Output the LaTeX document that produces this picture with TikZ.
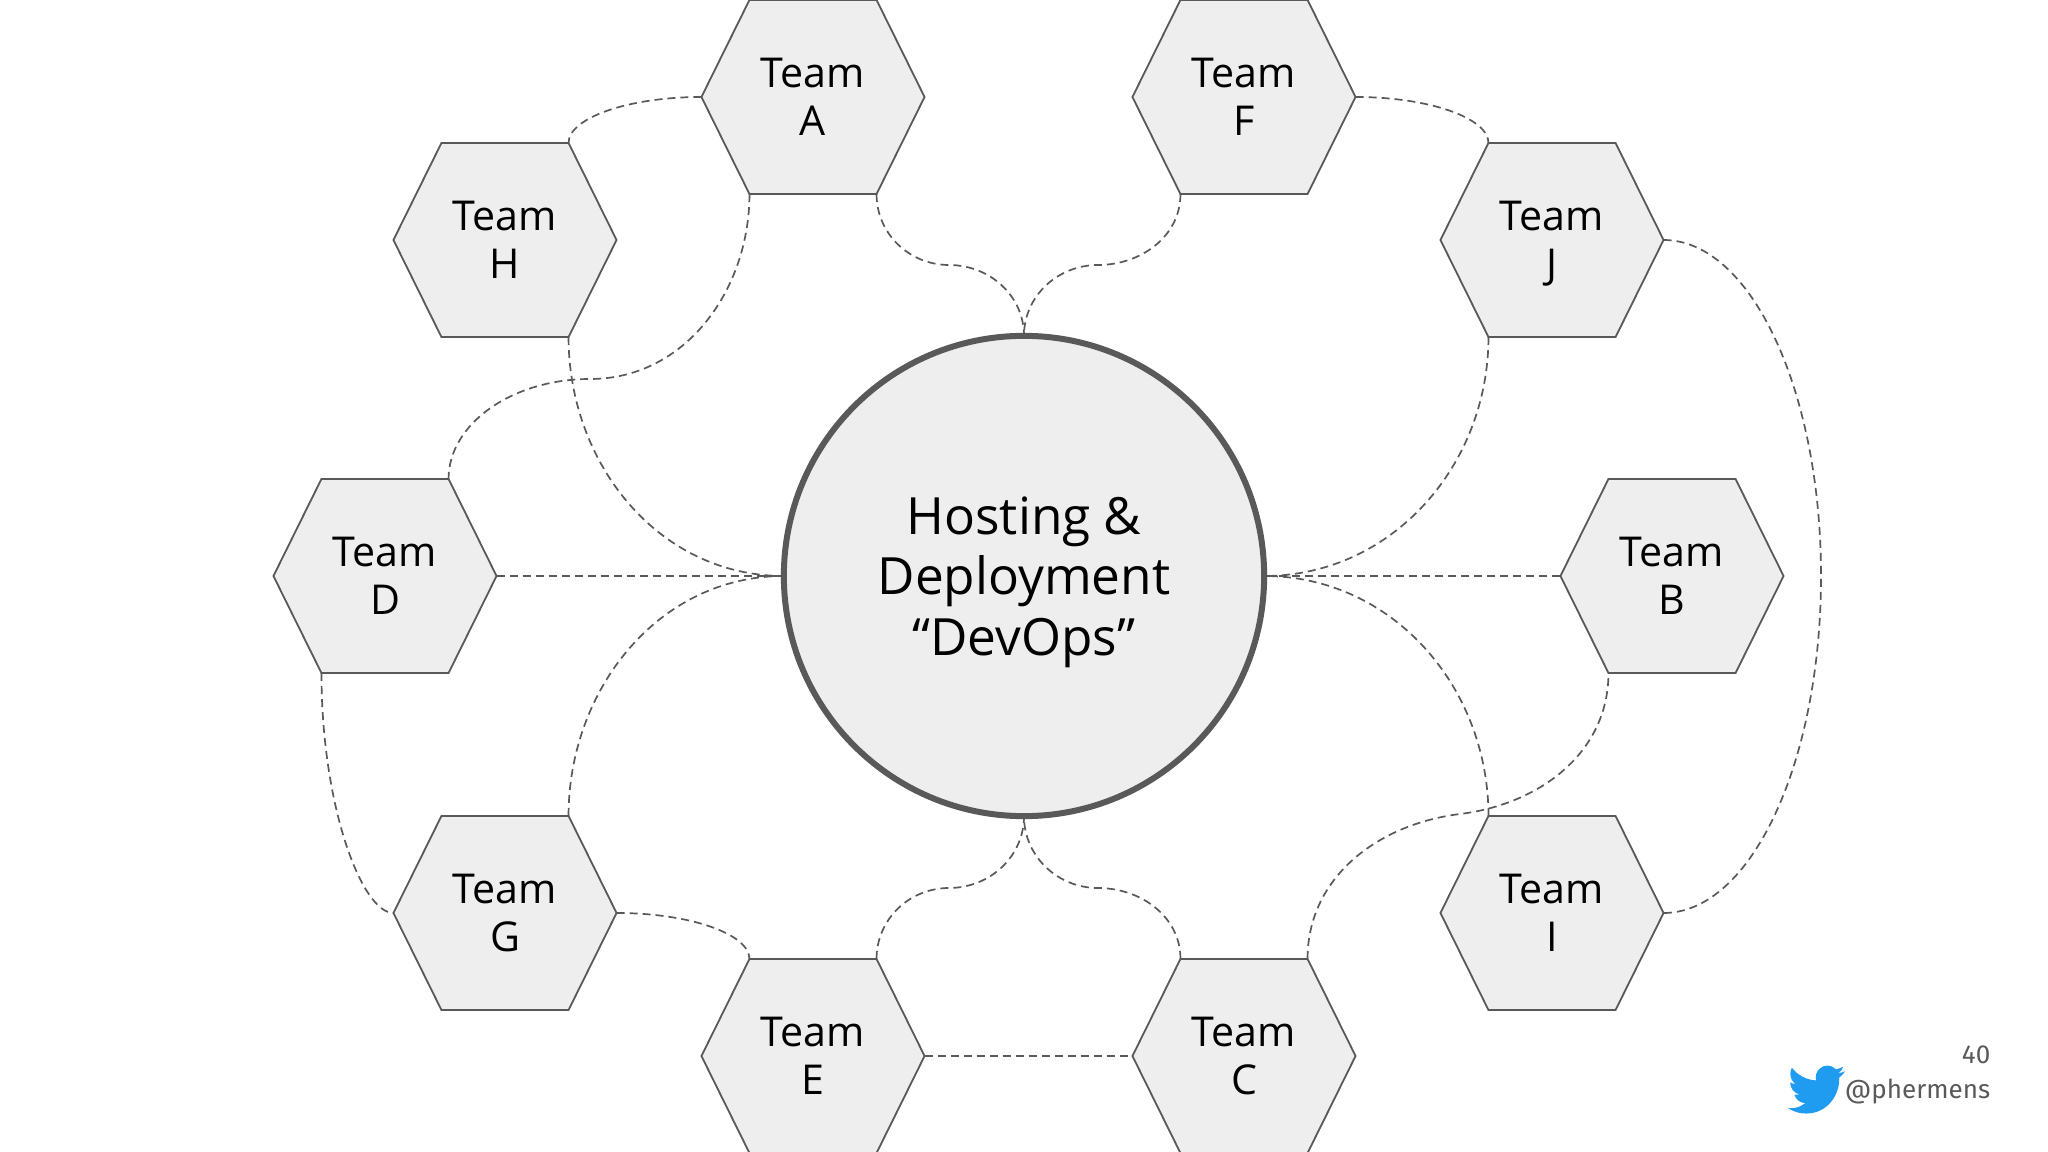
\documentclass[tikz,border=0pt]{standalone}
\usepackage{fontspec}
\setmainfont{Open Sans}
\newfontfamily\slidefont{Fira Sans}
\usetikzlibrary{svg.path}
\definecolor{hexfill}{HTML}{EEEEEE}
\definecolor{hexline}{HTML}{595959}
\definecolor{birdblue}{HTML}{1F9BEF}
\makeatletter
\pgfdeclareshape{teamhex}{
	\inheritsavedanchors[from=rectangle]
	\inheritanchorborder[from=rectangle]
	\inheritanchor[from=rectangle]{center}
	\inheritanchor[from=rectangle]{north}
	\inheritanchor[from=rectangle]{south}
	\inheritanchor[from=rectangle]{east}
	\inheritanchor[from=rectangle]{west}
	\anchor{ne}{\northeast \advance\pgf@x by -0.48cm}
	\anchor{sw}{\southwest \advance\pgf@x by 0.48cm}
	\anchor{nw}{\southwest \pgf@xa=\pgf@x \advance\pgf@xa by 0.48cm \northeast \pgf@x=\pgf@xa}
	\anchor{se}{\northeast \pgf@xa=\pgf@x \advance\pgf@xa by -0.48cm \southwest \pgf@x=\pgf@xa}
	\backgroundpath{
		\southwest \pgf@xa=\pgf@x \pgf@ya=\pgf@y
		\northeast \pgf@xb=\pgf@x \pgf@yb=\pgf@y
		\pgf@yc=0.5\pgf@ya \advance\pgf@yc by 0.5\pgf@yb
		\pgfpathmoveto{\pgfqpoint{\pgf@xa}{\pgf@yc}}
		\pgfpathlineto{\pgfpoint{\pgf@xa+0.48cm}{\pgf@yb}}
		\pgfpathlineto{\pgfpoint{\pgf@xb-0.48cm}{\pgf@yb}}
		\pgfpathlineto{\pgfqpoint{\pgf@xb}{\pgf@yc}}
		\pgfpathlineto{\pgfpoint{\pgf@xb-0.48cm}{\pgf@ya}}
		\pgfpathlineto{\pgfpoint{\pgf@xa+0.48cm}{\pgf@ya}}
		\pgfpathclose
	}
}
\makeatother
\tikzset{
	team/.style={teamhex,minimum width=2.23cm,minimum height=1.94cm,inner sep=0pt,outer sep=0pt,draw=hexline,fill=hexfill,line width=0.018cm,
		align=center,font=\fontsize{11.7}{13.6}\selectfont},
	hub/.style={circle,minimum size=4.8cm,inner sep=0pt,outer sep=0pt,draw=hexline,fill=hexfill,line width=0.06cm,
		align=center,text depth=0pt,font=\fontsize{14.6}{17.3}\selectfont},
	link/.style={draw=hexline,line width=0.017cm,dash pattern=on 0.08cm off 0.05cm},
	flat/.style={out looseness=1.34,in looseness=0.45},
	slidetext/.style={inner sep=0pt,anchor=base east,text=hexline,font=\slidefont\fontsize{7.4}{9}\selectfont}
}
\begin{document}
\begin{tikzpicture}[x=0.01cm,y=-0.01cm]
	\useasboundingbox (0,0) rectangle (2048,1152);

	\node(hub) [hub] at (1024,576) {Hosting \&\\Deployment\\“DevOps”};
	\node(a) [team] at (813,97) {Team\\A};
	\node(f) [team] at (1244,97) {Team\\F};
	\node(h) [team] at (505,240) {Team\\H};
	\node(j) [team] at (1552,240) {Team\\\smash{J}};
	\node(d) [team] at (385,576) {Team\\D};
	\node(b) [team] at (1672,576) {Team\\B};
	\node(g) [team] at (505,913) {Team\\G};
	\node(i) [team] at (1552,913) {Team\\I};
	\node(e) [team] at (813,1056) {Team\\E};
	\node(c) [team] at (1244,1056) {Team\\C};

	\coordinate(ah) at (949,265);
	\coordinate(fh) at (1098,265);
	\coordinate(ad) at (590,379);
	\coordinate(eh) at (949,888);
	\coordinate(ch) at (1098,888);
	\coordinate(cb) at (1460,814);
	\coordinate(ji) at (1821,576);

	\draw[link](a.west) to[out=180,in=90,flat] (h.ne);
	\draw[link](a.se) to[out=-90,in=180] (ah) to[out=0,in=90] (hub.north);
	\draw[link](f.sw) to[out=-90,in=0] (fh) to[out=180,in=90] (hub.north);
	\draw[link](a.sw) to[out=-90,in=0] (ad) to[out=180,in=90,out looseness=1.15,in looseness=0.81] (d.ne);
	\draw[link](h.se) to[out=-90,in=180] (hub.west);
	\draw[link](j.sw) to[out=-90,in=0] (hub.east);
	\draw[link](j.east) to[out=0,in=90,out looseness=0.6,in looseness=1.28] (ji) to[out=-90,in=0,out looseness=1.28,in looseness=0.6] (i.east);
	\draw[link](f.east) to[out=0,in=90,flat] (j.nw);
	\draw[link](d.east) -- (hub.west);
	\draw[link](b.west) -- (hub.east);
	\draw[link](g.ne) to[out=90,in=180] (hub.west);
	\draw[link](d.sw) to[out=-90,in=180,out looseness=1.37,in looseness=0.32] (g.west);
	\draw[link](g.east) to[out=0,in=90,flat] (e.nw);
	\draw[link](e.ne) to[out=90,in=180] (eh) to[out=0,in=-90] (hub.south);
	\draw[link](c.nw) to[out=90,in=0] (ch) to[out=180,in=-90] (hub.south);
	\draw[link](e.east) -- (c.west);
	\draw[link](c.ne) to[out=90,in=187] (cb) to[out=7,in=-90] (b.sw);
	\draw[link](i.nw) to[out=90,in=0] (hub.east);

	\node(page) [slidetext] at (1991,1063) {40};
	\node(handle) [slidetext] at (1991,1098) {@phermens};
	\fill[birdblue,shift={(1788,1060)},xscale=0.676,yscale=-0.70] svg {M 23.953 4.57 a 10 10 0 0 1 -2.825 .775 4.958 4.958 0 0 0 2.163 -2.723 c -.951 .555 -2.005 .959 -3.127 1.184 a 4.92 4.92 0 0 0 -8.384 4.482 C 7.69 8.095 4.067 6.13 1.64 3.162 a 4.822 4.822 0 0 0 -.666 2.475 c 0 1.71 .87 3.213 2.188 4.096 a 4.904 4.904 0 0 1 -2.228 -.616 v .06 a 4.923 4.923 0 0 0 3.946 4.827 4.996 4.996 0 0 1 -2.212 .085 4.936 4.936 0 0 0 4.604 3.417 9.867 9.867 0 0 1 -6.102 2.105 c -.39 0 -.779 -.023 -1.17 -.067 a 13.995 13.995 0 0 0 7.557 2.209 c 9.053 0 13.998 -7.496 13.998 -13.985 0 -.21 0 -.42 -.015 -.63 A 9.935 9.935 0 0 0 24 4.59 z};
\end{tikzpicture}
\end{document}
